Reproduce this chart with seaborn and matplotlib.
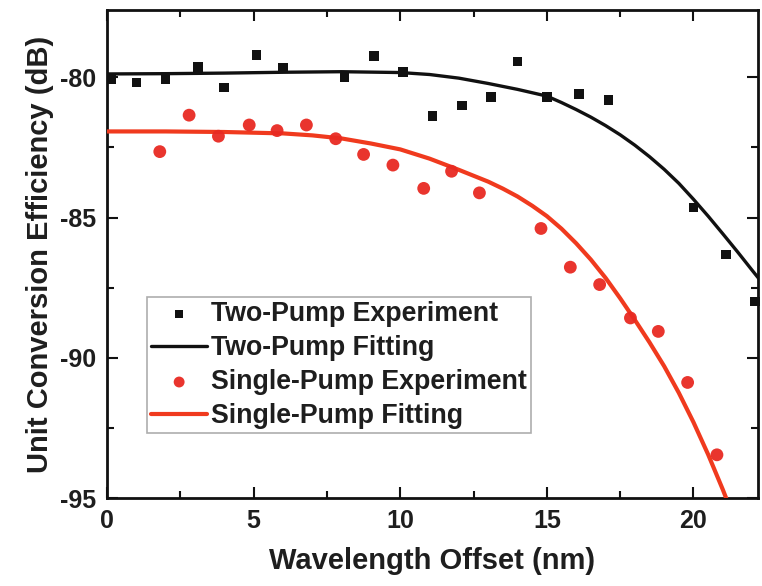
import matplotlib
matplotlib.use("Agg")
import matplotlib.pyplot as plt
import seaborn as sns
import pandas as pd
from matplotlib.ticker import MultipleLocator

# ---- data ----
two_exp_x = [0.15, 1.0, 2.0, 3.1, 4.0, 5.1, 6.0, 8.1, 9.1, 10.1, 11.1, 12.1, 13.1, 14.0,
             15.0, 16.1, 17.1, 20.0, 21.1, 22.1]
two_exp_y = [-80.07, -80.19, -80.07, -79.63, -80.37, -79.2, -79.65, -80.01, -79.24, -79.8,
             -81.39, -81.0, -80.71, -79.43, -80.71, -80.6, -80.82, -84.64, -86.32, -88.0]

two_fit_x = [0, 2, 4, 6, 8, 10, 11, 12, 13, 14, 15, 15.5, 16, 16.5, 17, 17.5, 18, 18.5,
             19, 19.5, 20, 20.5, 21, 21.5, 22, 22.4]
two_fit_y = [-79.88, -79.87, -79.85, -79.82, -79.8, -79.83, -79.9, -80.03, -80.22, -80.43,
             -80.67, -80.9, -81.15, -81.42, -81.72, -82.05, -82.42, -82.83,
             -83.28, -83.78, -84.35, -84.95, -85.58, -86.22, -86.88, -87.4]

single_exp_x = [1.8, 2.8, 3.8, 4.85, 5.8, 6.8, 7.8, 8.75, 9.75, 10.8, 11.75, 12.7, 14.8,
                15.8, 16.8, 17.85, 18.8, 19.8, 20.8]
single_exp_y = [-82.65, -81.35, -82.1, -81.7, -81.9, -81.7, -82.19, -82.75, -83.13, -83.96,
                -83.35, -84.12, -85.39, -86.77, -87.39, -88.58, -89.06, -90.88, -93.46]

single_fit_x = [0, 2, 4, 6, 7, 8, 9, 10, 11, 12, 13, 13.5, 14, 14.5, 15, 15.5, 16, 16.5,
                17, 17.5, 18, 18.5, 19, 19.5, 20, 20.5, 21, 21.3]
single_fit_y = [-81.93, -81.93, -81.95, -82.0, -82.07, -82.18, -82.36, -82.57, -82.9, -83.3,
                -83.72, -83.97, -84.25, -84.58, -84.95, -85.4, -85.92, -86.5,
                -87.15, -87.88, -88.65, -89.45, -90.3, -91.25, -92.3, -93.45, -94.7, -95.5]

labels = ["Two-Pump Experiment", "Two-Pump Fitting", "Single-Pump Experiment", "Single-Pump Fitting"]
x_label = "Wavelength Offset (nm)"
y_label = "Unit Conversion Efficiency (dB)"

sns.set_theme(style="ticks")
plt.rcParams['font.family'] = ['Liberation Sans', 'DejaVu Sans']
plt.rcParams['font.weight'] = 'bold'
plt.rcParams['axes.unicode_minus'] = False

TXT = "#1e1e1e"
RED_PT = "#e82a22"
RED_LN = "#f03a1e"

fig = plt.figure(figsize=(7.62, 5.86), dpi=100)
ax = fig.add_axes([107 / 762, 1 - 498 / 586, 651 / 762, 488 / 586])

df_te = pd.DataFrame({"x": two_exp_x, "y": two_exp_y})
df_tf = pd.DataFrame({"x": two_fit_x, "y": two_fit_y})
df_se = pd.DataFrame({"x": single_exp_x, "y": single_exp_y})
df_sf = pd.DataFrame({"x": single_fit_x, "y": single_fit_y})

sns.scatterplot(data=df_te, x="x", y="y", ax=ax, marker="s", s=48, color="#111111",
                edgecolor="none", label=labels[0], clip_on=False, zorder=4)
sns.lineplot(data=df_tf, x="x", y="y", ax=ax, color="#111111", lw=2.4, label=labels[1],
             sort=False, zorder=3)
sns.scatterplot(data=df_se, x="x", y="y", ax=ax, marker="o", s=85, color=RED_PT,
                edgecolor="none", label=labels[2], zorder=4, alpha=0.95)
sns.lineplot(data=df_sf, x="x", y="y", ax=ax, color=RED_LN, lw=3.0, label=labels[3],
             sort=False, zorder=3)

ax.set_xlim(0, 22.2)
ax.set_ylim(-95, -77.6)
ax.xaxis.set_major_locator(MultipleLocator(5))
ax.xaxis.set_minor_locator(MultipleLocator(2.5))
ax.yaxis.set_major_locator(MultipleLocator(5))
ax.yaxis.set_minor_locator(MultipleLocator(2.5))
ax.tick_params(which="both", direction="in", top=True, right=True, color="#111111",
               labelsize=18, labelcolor=TXT, width=1.5)
ax.tick_params(which="major", length=8)
ax.tick_params(which="minor", length=5)
ax.tick_params(axis="x", which="major", pad=8)
ax.tick_params(axis="y", which="major", pad=8)
for lab in ax.get_xticklabels() + ax.get_yticklabels():
    lab.set_fontweight("bold")
for sp in ax.spines.values():
    sp.set_visible(True)
    sp.set_linewidth(2.0)
    sp.set_color("#111111")

ax.set_xlabel(x_label, fontsize=21, fontweight="bold", color=TXT, labelpad=10)
ax.set_ylabel(y_label, fontsize=21, fontweight="bold", color=TXT, labelpad=4)

leg = ax.legend(loc="upper left", bbox_to_anchor=(0.0614, 0.412), borderaxespad=0,
                fontsize=19.3, frameon=True, fancybox=False, edgecolor="#999999",
                handlelength=2.1, handletextpad=0.15, borderpad=0.15, labelspacing=0.3,
                markerscale=0.85)
leg.get_frame().set_linewidth(1.2)
for t in leg.get_texts():
    t.set_color(TXT)
    t.set_fontweight("bold")

fig.savefig("out.png", dpi=100)
